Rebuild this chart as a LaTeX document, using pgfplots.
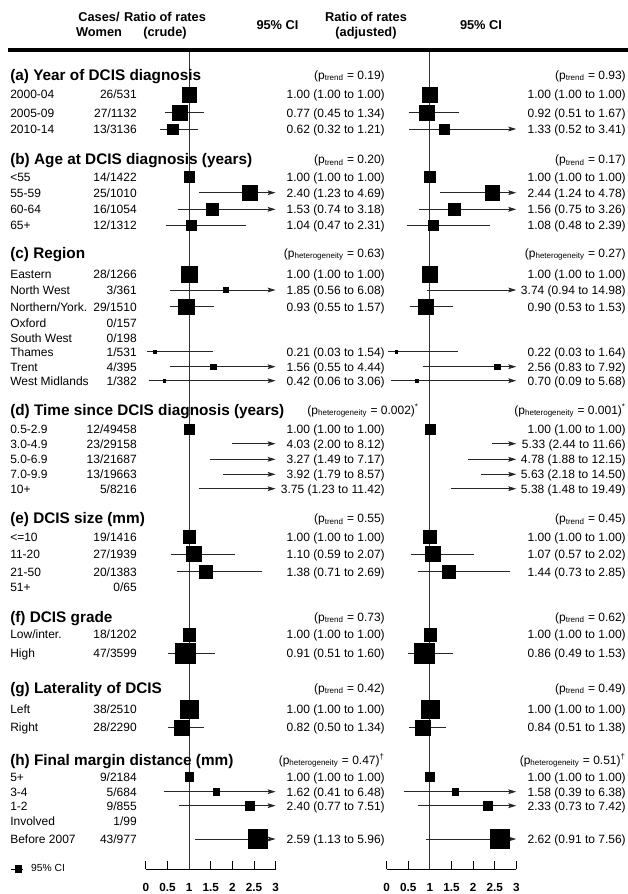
\documentclass[border=0pt]{standalone}
\usepackage{pgfplots}
\pgfplotsset{compat=1.18}
\usepackage{pgfplotstable}
\usepackage{fontspec}
\setmainfont{Liberation Sans}
\usetikzlibrary{arrows.meta}

\newcommand\fr{\fontsize{9}{10.5}\selectfont}
\newcommand\fh{\fontsize{11.5}{13}\selectfont\bfseries}
\newcommand\fhd{\fontsize{9.6}{11}\selectfont\bfseries}
\newcommand\ptr[1]{(p\textsubscript{trend} = #1)}
\newcommand\phet[1]{(p\textsubscript{heterogeneity} = #1)}

% rows: y (negative pixel row), estimate, cases (box weight)
\pgfplotstableread{
y est w
-94.3 1.00 26
-112.7 0.77 27
-129 0.62 13
-177 1.00 14
-192.7 2.40 25
-209.3 1.53 16
-225 1.04 12
-274 1.00 28
-290 1.85 3
-306.7 0.93 29
-351.7 0.21 1
-366.7 1.56 4
-380.7 0.42 1
-429 1.00 12
-443.7 4.03 23
-459.3 3.27 13
-474.3 3.92 13
-488.7 3.75 5
-536.7 1.00 19
-554 1.10 27
-571.7 1.38 20
-634.5 1.00 18
-653.3 0.91 47
-709 1.00 38
-727.3 0.82 28
-776.7 1.00 9
-791.7 1.62 5
-805.7 2.40 9
-839 2.59 43
}\crudesq

\pgfplotstableread{
y est w
-94.3 1.00 26
-112.7 0.92 27
-129 1.33 13
-177 1.00 14
-192.7 2.44 25
-209.3 1.56 16
-225 1.08 12
-274 1.00 28
-290 3.74 3
-306.7 0.90 29
-351.7 0.22 1
-366.7 2.56 4
-380.7 0.70 1
-429 1.00 12
-443.7 5.33 23
-459.3 4.78 13
-474.3 5.63 13
-488.7 5.38 5
-536.7 1.00 19
-554 1.07 27
-571.7 1.44 20
-634.5 1.00 18
-653.3 0.86 47
-709 1.00 38
-727.3 0.84 28
-776.7 1.00 9
-791.7 1.58 5
-805.7 2.33 9
-839 2.62 43
}\adjsq

\pgfplotsset{
  fp/.style={scale only axis, width=97.2pt, height=614.25pt,
    xmin=0, xmax=3, ymin=-869, ymax=-50,
    axis x line*=bottom, axis y line=none, clip=false,
    x axis line style={-}, axis line style={line width=0.75pt},
    xtick={0,0.5,1,1.5,2,2.5,3}, ytick=\empty,
    tick align=inside, major tick length=5.8pt,
    every tick/.style={black, line width=0.75pt},
    xticklabel={\pgfmathprintnumber[assume math mode=true]{\tick}},
    xticklabel style={font=\bfseries\fontsize{8.8}{10}\selectfont, yshift=-7.5pt},
    anchor=south west},
  cil/.style={black!85, line width=0.7pt, forget plot},
  cia/.style={cil, -{Stealth[length=6pt, width=3.6pt, inset=1.2pt]}},
  refl/.style={black!80, line width=0.9pt, forget plot},
  sq/.style={scatter, only marks, mark=square*, forget plot,
    restrict x to domain=0:3, point meta=explicit,
    scatter/use mapped color={draw=black, fill=black},
    mark options={line width=0.2pt},
    visualization depends on={\thisrow{w} \as \wt},
    scatter/@pre marker code/.append style={/tikz/mark size=1.0875*sqrt(\wt)}}
}
\newcommand\ci[3]{\addplot[cil] coordinates {(#1,#3) (#2,#3)};}
\newcommand\ca[2]{\addplot[cia] coordinates {(#1,#2) (3,#2)};}

\begin{document}
\begin{tikzpicture}
\useasboundingbox (0,0) rectangle (471pt,-670.5pt);

% ---------- crude panel ----------
\begin{axis}[fp, at={(109.5pt,-651.75pt)},
  legend style={at={(-1.049,0)}, anchor=west, draw=none, fill=none,
    inner sep=0pt, font=\fontsize{7.7}{9}\selectfont},
  legend cell align=left,
  legend image code/.code={\draw[mark repeat=2,mark phase=2,#1] plot coordinates {(0pt,0pt) (5.6pt,0pt) (9.5pt,0pt)};}]
\addlegendimage{black, line width=0.7pt, mark=square*, mark size=2.3pt}
\addlegendentry{\hspace{3.5pt}95\% CI}
\addplot[refl] coordinates {(1,-50) (1,-869)};
\ci{0.45}{1.34}{-112.7}
\ci{0.32}{1.21}{-129}
\ca{1.23}{-192.7}
\ca{0.74}{-209.3}
\ci{0.47}{2.31}{-225}
\ca{0.56}{-290}
\ci{0.55}{1.57}{-306.7}
\ci{0.03}{1.54}{-351.7}
\ca{0.55}{-366.7}
\ca{0.06}{-380.7}
\ca{2.00}{-443.7}
\ca{1.49}{-459.3}
\ca{1.79}{-474.3}
\ca{1.23}{-488.7}
\ci{0.59}{2.07}{-554}
\ci{0.71}{2.69}{-571.7}
\ci{0.51}{1.60}{-653.3}
\ci{0.50}{1.34}{-727.3}
\ca{0.41}{-791.7}
\ca{0.77}{-805.7}
\ca{1.13}{-839}
\addplot[sq] table[x=est, y=y, meta=w]{\crudesq};
\end{axis}

% ---------- adjusted panel ----------
\begin{axis}[fp, at={(290.0pt,-651.75pt)}]
\addplot[refl] coordinates {(1,-50) (1,-869)};
\ci{0.51}{1.67}{-112.7}
\ca{0.52}{-129}
\ca{1.24}{-192.7}
\ca{0.75}{-209.3}
\ci{0.48}{2.39}{-225}
\ca{0.94}{-290}
\ci{0.53}{1.53}{-306.7}
\ci{0.03}{1.64}{-351.7}
\ca{0.83}{-366.7}
\ca{0.09}{-380.7}
\ca{2.44}{-443.7}
\ca{1.88}{-459.3}
\ca{2.18}{-474.3}
\ca{1.48}{-488.7}
\ci{0.57}{2.02}{-554}
\ci{0.73}{2.85}{-571.7}
\ci{0.49}{1.53}{-653.3}
\ci{0.51}{1.38}{-727.3}
\ca{0.39}{-791.7}
\ca{0.73}{-805.7}
\ca{0.91}{-839}
\addplot[sq] table[x=est, y=y, meta=w]{\adjsq};
\end{axis}

% ---------- text ----------
\begin{scope}[x=0.75pt, y=-0.75pt,
  lab/.style={anchor=west, font=\fr, inner sep=0pt, text height=6.45pt, text depth=0pt},
  num/.style={anchor=east, font=\fr, inner sep=0pt, text height=6.45pt, text depth=0pt},
  hd/.style={anchor=west, font=\fh, inner sep=0pt, text height=8.25pt, text depth=0pt},
  hdr/.style={anchor=center, font=\fhd, inner sep=0pt, text height=6.9pt, text depth=0pt}]
\newcommand\row[5]{\node[lab] at (10,#1) {#2}; \node[num] at (137,#1) {#3};
  \node[num] at (385,#1) {#4}; \node[num] at (626,#1) {#5};}
\newcommand\grp[4]{\node[hd] at (10,#1) {#2}; \node[num] at (385,#1) {#3};
  \node[num] at (626,#1) {#4};}
\def\one{1.00 (1.00 to 1.00)}

\draw[line width=2.6pt] (8,50) -- (628,50);
\node[hdr] at (99,16.7) {Cases/};
\node[hdr] at (99,32.3) {Women};
\node[hdr] at (165,16.7) {Ratio of rates};
\node[hdr] at (165,32.3) {(crude)};
\node[hdr] at (277.5,25) {95\% CI};
\node[hdr] at (366,16.7) {Ratio of rates};
\node[hdr] at (366,32.3) {(adjusted)};
\node[hdr] at (481,25) {95\% CI};

\grp{75}{(a) Year of DCIS diagnosis}{\ptr{0.19}}{\ptr{0.93}}
\row{94.3}{2000-04}{26/531}{\one}{\one}
\row{112.7}{2005-09}{27/1132}{0.77 (0.45 to 1.34)}{0.92 (0.51 to 1.67)}
\row{129}{2010-14}{13/3136}{0.62 (0.32 to 1.21)}{1.33 (0.52 to 3.41)}

\grp{159.3}{(b) Age at DCIS diagnosis (years)}{\ptr{0.20}}{\ptr{0.17}}
\row{177}{<55}{14/1422}{\one}{\one}
\row{192.7}{55-59}{25/1010}{2.40 (1.23 to 4.69)}{2.44 (1.24 to 4.78)}
\row{209.3}{60-64}{16/1054}{1.53 (0.74 to 3.18)}{1.56 (0.75 to 3.26)}
\row{225}{65+}{12/1312}{1.04 (0.47 to 2.31)}{1.08 (0.48 to 2.39)}

\grp{253}{(c) Region}{\phet{0.63}}{\phet{0.27}}
\row{274}{Eastern}{28/1266}{\one}{\one}
\row{290}{North West}{3/361}{1.85 (0.56 to 6.08)}{3.74 (0.94 to 14.98)}
\row{306.7}{Northern/York.}{29/1510}{0.93 (0.55 to 1.57)}{0.90 (0.53 to 1.53)}
\row{323.3}{Oxford}{0/157}{}{}
\row{338.3}{South West}{0/198}{}{}
\row{351.7}{Thames}{1/531}{0.21 (0.03 to 1.54)}{0.22 (0.03 to 1.64)}
\row{366.7}{Trent}{4/395}{1.56 (0.55 to 4.44)}{2.56 (0.83 to 7.92)}
\row{380.7}{West Midlands}{1/382}{0.42 (0.06 to 3.06)}{0.70 (0.09 to 5.68)}

\node[hd] at (10,410) {(d) Time since DCIS diagnosis (years)};
\node[num] at (419,410) {\phet{0.002}\textsuperscript{*}};
\node[num] at (626,410) {\phet{0.001}\textsuperscript{*}};
\row{429}{0.5-2.9}{12/49458}{\one}{\one}
\row{443.7}{3.0-4.9}{23/29158}{4.03 (2.00 to 8.12)}{5.33 (2.44 to 11.66)}
\row{459.3}{5.0-6.9}{13/21687}{3.27 (1.49 to 7.17)}{4.78 (1.88 to 12.15)}
\row{474.3}{7.0-9.9}{13/19663}{3.92 (1.79 to 8.57)}{5.63 (2.18 to 14.50)}
\row{488.7}{10+}{5/8216}{3.75 (1.23 to 11.42)}{5.38 (1.48 to 19.49)}

\grp{518.3}{(e) DCIS size (mm)}{\ptr{0.55}}{\ptr{0.45}}
\row{536.7}{<=10}{19/1416}{\one}{\one}
\row{554}{11-20}{27/1939}{1.10 (0.59 to 2.07)}{1.07 (0.57 to 2.02)}
\row{571.7}{21-50}{20/1383}{1.38 (0.71 to 2.69)}{1.44 (0.73 to 2.85)}
\row{586.7}{51+}{0/65}{}{}

\grp{616.7}{(f) DCIS grade}{\ptr{0.73}}{\ptr{0.62}}
\row{634.5}{Low/inter.}{18/1202}{\one}{\one}
\row{653.3}{High}{47/3599}{0.91 (0.51 to 1.60)}{0.86 (0.49 to 1.53)}

\grp{687.7}{(g) Laterality of DCIS}{\ptr{0.42}}{\ptr{0.49}}
\row{709}{Left}{38/2510}{\one}{\one}
\row{727.3}{Right}{28/2290}{0.82 (0.50 to 1.34)}{0.84 (0.51 to 1.38)}

\grp{760}{(h) Final margin distance (mm)}{\phet{0.47}\textsuperscript{\textdagger}}{\phet{0.51}\textsuperscript{\textdagger}}
\row{776.7}{5+}{9/2184}{\one}{\one}
\row{791.7}{3-4}{5/684}{1.62 (0.41 to 6.48)}{1.58 (0.39 to 6.38)}
\row{805.7}{1-2}{9/855}{2.40 (0.77 to 7.51)}{2.33 (0.73 to 7.42)}
\row{821}{Involved}{1/99}{}{}
\row{839}{Before 2007}{43/977}{2.59 (1.13 to 5.96)}{2.62 (0.91 to 7.56)}
\end{scope}
\end{tikzpicture}
\end{document}
